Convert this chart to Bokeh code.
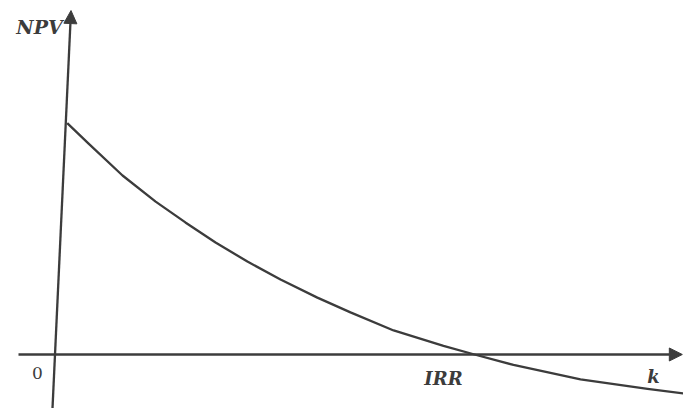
from bokeh.plotting import figure
from bokeh.models import Range1d, Arrow, NormalHead, ColumnDataSource
from bokeh.core.properties import value
from bokeh.embed import file_html
from bokeh.resources import INLINE

# Discount rate k (%) and NPV (schematic units)
k_values = [0.28, 0.79, 1.6, 2.39, 3.1, 3.82, 4.58, 5.37, 6.25, 7.04, 8.07,
            9.26, 10.0, 10.93, 12.53, 14.13, 15.0]
npv_values = [100, 91.2, 77.4, 66.1, 57.1, 48.4, 40.2, 32.4, 24.6, 18.2, 10.4,
              3.7, 0, -4.5, -10.8, -14.9, -16.9]
irr = 10.0

W, H = 683, 408
p = figure(width=W, height=H, output_backend="svg", toolbar_location=None,
           x_range=Range1d(-1.3126, 14.988), y_range=Range1d(-23.35, 153.05),
           min_border=0)
p.xaxis.visible = False
p.yaxis.visible = False
p.xgrid.visible = False
p.ygrid.visible = False
p.outline_line_color = None
p.background_fill_color = "white"
p.border_fill_color = "white"

ink = "#3c3c3c"

# horizontal (k) axis with arrow
p.add_layout(Arrow(end=NormalHead(size=13, fill_color=ink, line_color=ink),
                   x_start=-0.883, y_start=0, x_end=14.96, y_end=0,
                   line_color=ink, line_width=2.6))
# vertical (NPV) axis with arrow (slightly slanted as in the scan)
p.add_layout(Arrow(end=NormalHead(size=13, fill_color=ink, line_color=ink),
                   x_start=-0.0716, y_start=-23.35, x_end=0.37, y_end=148.7,
                   line_color=ink, line_width=2.3))

src = ColumnDataSource(dict(k=k_values, npv=npv_values))
p.line("k", "npv", source=src, line_color=ink, line_width=2.3, line_join="round")

serif = value("DejaVu Serif")
p.text(x=[-0.382], y=[141.4], text=["NPV"], text_font=serif, text_font_size="19px",
       text_font_style="bold italic", text_color=ink,
       text_align="center", text_baseline="middle")
p.text(x=[-0.43], y=[-7.8], text=["0"], text_font=serif, text_font_size="17px",
       text_color=ink, text_align="center", text_baseline="middle")
p.text(x=[irr - 0.74], y=[-10.4], text=["IRR"], text_font=serif, text_font_size="18px",
       text_font_style="bold italic", text_color=ink,
       text_align="center", text_baseline="middle")
p.text(x=[14.27], y=[-9.5], text=["k"], text_font=serif, text_font_size="18px",
       text_font_style="bold italic", text_color=ink,
       text_align="center", text_baseline="middle")

open("out.html", "w").write(file_html(p, INLINE))
